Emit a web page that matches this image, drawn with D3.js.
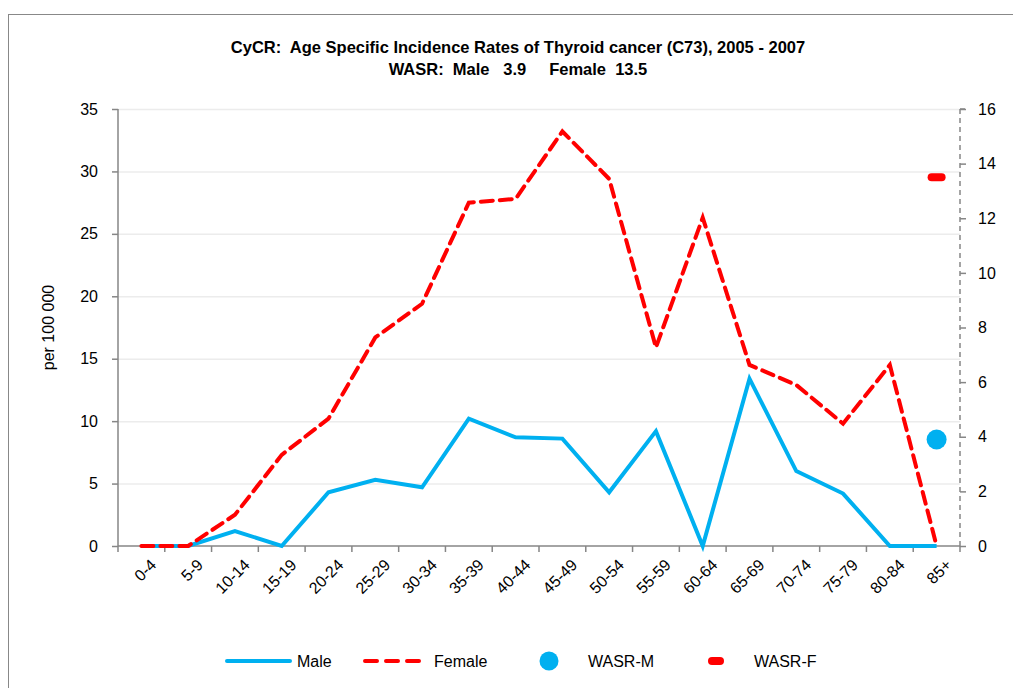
<!DOCTYPE html>
<html><head><meta charset="utf-8">
<script src="https://cdn.jsdelivr.net/npm/d3@7"></script>
<style>body{margin:0;background:#fff;} text{font-family:"Liberation Sans",Arial,sans-serif;}</style>
</head><body>
<svg id="c" width="1013" height="688"></svg>
<script>
const categories = ["0-4","5-9","10-14","15-19","20-24","25-29","30-34","35-39","40-44","45-49","50-54","55-59","60-64","65-69","70-74","75-79","80-84","85+"];
const male   = [0,0,1.2,0,4.3,5.3,4.7,10.2,8.7,8.6,4.3,9.2,0,13.4,6.0,4.2,0,0];
const female = [0,0,2.5,7.3,10.2,16.7,19.4,27.5,27.8,33.2,29.4,15.9,26.3,14.5,12.9,9.8,14.5,0];
const wasrM = 3.9, wasrF = 13.5;
const leftTicks = [0,5,10,15,20,25,30,35];
const rightTicks = [0,2,4,6,8,10,12,14,16];

const svg = d3.select("#c");
const L = 118, R = 960, T = 109, B = 546;
const x = d3.scaleBand().domain(categories).range([L,R]).padding(0);
const y = d3.scaleLinear().domain([0,35]).range([B,T]);
const y2 = d3.scaleLinear().domain([0,16]).range([B,T]);
const blue = "#00B0F0", red = "#FF0000", axisC = "#868686";
const fs = 16;

// outer border
svg.append("rect").attr("x",8.5).attr("y",14.5).attr("width",1100).attr("height",800)
  .attr("fill","none").attr("stroke","#888").attr("stroke-width",1);

// title
svg.append("text").attr("x",518).attr("y",53).attr("text-anchor","middle").attr("font-size",16.5).attr("font-weight","bold").attr("xml:space","preserve")
  .text("CyCR:  Age Specific Incidence Rates of Thyroid cancer (C73), 2005 - 2007");
svg.append("text").attr("x",518).attr("y",75).attr("text-anchor","middle").attr("font-size",16.5).attr("font-weight","bold").attr("xml:space","preserve")
  .text("WASR:  Male   3.9     Female  13.5");

// gridlines
svg.append("g").selectAll("line").data(leftTicks.slice(1)).join("line")
  .attr("x1",L).attr("x2",R).attr("y1",d=>y(d)+0.5).attr("y2",d=>y(d)+0.5)
  .attr("stroke","#ececec").attr("stroke-width",1.5);

// left axis
const gl = svg.append("g").attr("transform",`translate(${L},0)`)
  .call(d3.axisLeft(y).tickValues(leftTicks).tickSize(6).tickPadding(14));
gl.selectAll("path,line").attr("stroke",axisC).attr("stroke-width",1.5);
gl.select(".domain").attr("d",`M0,${B}V${T}`);
gl.selectAll("text").attr("font-size",fs).attr("fill","#000").attr("font-family","Liberation Sans, Arial");

// right axis
const gr = svg.append("g").attr("transform",`translate(${R},0)`)
  .call(d3.axisRight(y2).tickValues(rightTicks).tickSize(6).tickPadding(12));
gr.selectAll("path,line").attr("stroke",axisC).attr("stroke-width",1.5);
gr.select(".domain").attr("d",`M0,${B}V${T}M0,${T}H6`).attr("stroke-dasharray","5,4").attr("fill","none");
gr.selectAll("text").attr("font-size",fs).attr("fill","#000").attr("font-family","Liberation Sans, Arial");

// x axis
const xb = svg.append("g").attr("transform",`translate(0,${B})`);
xb.append("line").attr("x1",L).attr("x2",R).attr("y1",0).attr("y2",0).attr("stroke",axisC).attr("stroke-width",1.5);
const bounds = categories.map(c=>x(c)).concat([R]);
xb.selectAll("line.t").data(bounds).join("line").attr("class","t")
  .attr("x1",d=>d).attr("x2",d=>d).attr("y1",0).attr("y2",6).attr("stroke",axisC).attr("stroke-width",1.5);
xb.selectAll("text").data(categories).join("text")
  .attr("transform",d=>`translate(${x(d)+x.bandwidth()/2+8},12) rotate(-45)`)
  .attr("text-anchor","end").attr("dy","0.7em").attr("font-size",fs).text(d=>d);

// y label
svg.append("text").attr("transform",`translate(54,${(T+B)/2}) rotate(-90)`).attr("text-anchor","middle")
  .attr("font-size",fs).text("per 100 000");

const cx = d => x(d)+x.bandwidth()/2;
const line = d3.line().x((d,i)=>cx(categories[i])).y(d=>y(d));

svg.append("path").datum(male).attr("d",line).attr("fill","none").attr("stroke",blue).attr("stroke-width",4).attr("stroke-linejoin","miter");
svg.append("path").datum(female).attr("d",line).attr("fill","none").attr("stroke",red).attr("stroke-width",4)
  .attr("stroke-dasharray","12,7").attr("stroke-linecap","round");

// WASR markers on secondary axis
const last = categories[categories.length-1];
svg.append("circle").attr("cx",cx(last)).attr("cy",y2(wasrM)).attr("r",10).attr("fill",blue);
svg.append("rect").attr("x",cx(last)-9).attr("y",y2(wasrF)-4).attr("width",18).attr("height",8).attr("rx",4).attr("fill",red);

// legend
const ly = 661;
const lg = svg.append("g");
lg.append("line").attr("x1",227).attr("x2",290).attr("y1",ly).attr("y2",ly).attr("stroke",blue).attr("stroke-width",4).attr("stroke-linecap","round");
lg.append("text").attr("x",297).attr("y",ly).attr("dy","0.35em").attr("font-size",fs).text("Male");
lg.append("line").attr("x1",365).attr("x2",420).attr("y1",ly).attr("y2",ly).attr("stroke",red).attr("stroke-width",4)
  .attr("stroke-dasharray","12,9").attr("stroke-linecap","round");
lg.append("text").attr("x",434).attr("y",ly).attr("dy","0.35em").attr("font-size",fs).text("Female");
lg.append("circle").attr("cx",549).attr("cy",ly).attr("r",9.5).attr("fill",blue);
lg.append("text").attr("x",588).attr("y",ly).attr("dy","0.35em").attr("font-size",fs).text("WASR-M");
lg.append("rect").attr("x",708).attr("y",ly-4).attr("width",16).attr("height",8).attr("rx",4).attr("fill",red);
lg.append("text").attr("x",754).attr("y",ly).attr("dy","0.35em").attr("font-size",fs).text("WASR-F");
</script>
</body></html>
